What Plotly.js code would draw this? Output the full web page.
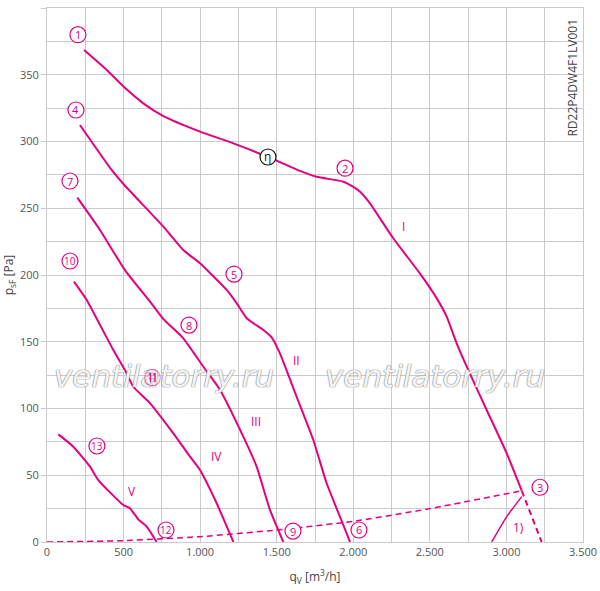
<!DOCTYPE html>
<html>
<head>
<meta charset="utf-8">
<script src="https://cdn.plot.ly/plotly-3.0.1.min.js"></script>
<style>
  html, body { margin: 0; padding: 0; background: #fff; }
  #chart { width: 600px; height: 591px; }
</style>
</head>
<body>
<div id="chart"></div>
<script>
// curve I (points 1 - 2 - 3)
const curve1X = [242, 390, 505, 629, 760, 999, 1217, 1443, 1652, 1761, 1935, 2000, 2044, 2109, 2261, 2436, 2545, 2610, 2675, 2741, 2871, 3002, 3100];
const curve1Y = [368.5, 353.6, 340.6, 328.6, 319, 307.4, 298.6, 288.4, 278, 273.6, 269.9, 266, 262.4, 253.7, 227.5, 201, 182.5, 168.8, 148.8, 131.3, 98.9, 66.4, 38.4];
// curve I beyond point 3 (dashed)
const curve1ExtX = [3100, 3230];
const curve1ExtY = [38.4, 0];
// curve II (points 4 - 5 - 6)
const curve2X = [215, 422, 505, 760, 890, 999, 1173, 1239, 1304, 1413, 1467, 1521, 1630, 1739, 1826, 1913, 1979];
const curve2Y = [312.4, 278.7, 267.4, 236.2, 218.7, 208.8, 188.8, 178.8, 167.6, 158.8, 153.3, 141.3, 108.8, 76.4, 44, 19, 0];
// curve III (points 7 - 8 - 9)
const curve3X = [198, 346, 509, 673, 760, 890, 1021, 1130, 1282, 1369, 1456, 1543];
const curve3Y = [257.9, 233.7, 203.7, 180, 167, 152.6, 131.3, 113.9, 78.9, 56.4, 24, 0];
// curve IV (points 10 - 11 - 12)
const curve4X = [176, 259, 433, 509, 564, 673, 825, 934, 999, 1108, 1217];
const curve4Y = [195, 181.3, 143.8, 128.8, 116.3, 103.9, 81.4, 63.9, 53.9, 29, 0];
// curve V (point 13)
const curve5X = [74, 172, 281, 335, 498, 542, 596, 651, 716];
const curve5Y = [80.6, 71.4, 56.4, 46.4, 27.7, 25.2, 17, 11.5, 0];
// system curve through 12 - 9 - 6 - 3 (dashed)
const systemX = [0, 500, 1000, 1500, 2000, 2500, 3100];
const systemY = [0, 1, 4, 9, 15.5, 25, 38.4];
// curve 1)
const limitX = [2904, 3002, 3100];
const limitY = [0, 19, 34];

// circled point numbers
const pointText = ["1", "2", "3", "4", "5", "6", "7", "8", "9", "10", "11", "12", "13"];
const pointX = [202, 1946, 3219, 189, 1221, 2037, 150, 927, 1606, 150, 686, 777, 326];
const pointY = [380, 280, 41, 323.6, 200.7, 9, 270.4, 162.5, 8.2, 210.5, 123.6, 9, 71.9];

// speed stage labels
const stageText = ["I", "II", "III", "IV", "V", "1)"];
const stageX = [2325, 1632, 1365, 1104, 555, 3076];
const stageY = [236, 136, 90, 64.4, 38.2, 11.2];

const etaX = 1443;
const etaY = 288.4;

const xTicks = [0, 500, 1000, 1500, 2000, 2500, 3000, 3500];
const yTicks = [0, 50, 100, 150, 200, 250, 300, 350, 400];

const pink = "#e6007e";
const gridGray = "#cbcbcb";

function curve(x, y, width, dash) {
  return {
    x: x, y: y,
    type: "scatter",
    mode: "lines",
    hoverinfo: "skip",
    line: { color: pink, width: width, dash: dash || "solid", shape: "spline", smoothing: 0.5 }
  };
}

var data = [
  curve(systemX, systemY, 1.5, "6px,4px"),
  curve(curve1X, curve1Y, 2),
  curve(curve1ExtX, curve1ExtY, 2, "6px,4px"),
  curve(curve2X, curve2Y, 2),
  curve(curve3X, curve3Y, 2),
  curve(curve4X, curve4Y, 2),
  curve(curve5X, curve5Y, 2),
  curve(limitX, limitY, 1.5)
];

var shapes = [];
var annotations = [];

// watermarks first, so labels sit above them
[764, 2534].forEach(function (wx) {
  annotations.push({
    x: wx, y: 124.3, xref: "x", yref: "y",
    text: "ventilatorry.ru", showarrow: false,
    font: {
      family: "DejaVu Sans", size: 31, style: "italic",
      color: "rgba(255,255,255,0.92)",
      shadow: "0 0 1px #8a8a8a, 0 0 1px #8a8a8a, 0 0 1px #8a8a8a"
    }
  });
});

function circleAt(x, y, color) {
  shapes.push({
    type: "circle", xref: "x", yref: "y",
    xsizemode: "pixel", ysizemode: "pixel",
    xanchor: x, yanchor: y,
    x0: -8, x1: 8, y0: -8, y1: 8,
    fillcolor: "white",
    line: { color: color, width: 1.2 },
    layer: "above"
  });
}

for (let i = 0; i < pointText.length; i++) {
  if (pointText[i] === "11") {
    // this one sits on the watermark: draw it as a circled glyph so it stays on top
    annotations.push({
      x: pointX[i], y: pointY[i], xref: "x", yref: "y",
      text: "⑪", showarrow: false, bgcolor: "rgba(255,255,255,0)",
      font: { family: "Noto Sans CJK JP", size: 17, color: pink }
    });
    continue;
  }
  circleAt(pointX[i], pointY[i], pink);
  annotations.push({
    x: pointX[i], y: pointY[i], xref: "x", yref: "y",
    text: pointText[i], showarrow: false,
    font: { family: "Open Sans", size: pointText[i].length > 1 ? 10 : 11, color: pink }
  });
}

circleAt(etaX, etaY, "#111");
annotations.push({
  x: etaX, y: etaY, xref: "x", yref: "y",
  text: "η", showarrow: false,
  font: { family: "Open Sans", size: 12, color: "#111" }
});

for (let i = 0; i < stageText.length; i++) {
  annotations.push({
    x: stageX[i], y: stageY[i], xref: "x", yref: "y",
    text: stageText[i], showarrow: false,
    font: { family: "Open Sans", size: 12, color: pink }
  });
}

// model code
annotations.push({
  x: 3429, y: 348, xref: "x", yref: "y",
  text: "RD22P4DW4F1LV001", showarrow: false, textangle: -90,
  font: { family: "Open Sans", size: 12, color: "#444" }
});

var layout = {
  width: 600,
  height: 591,
  margin: { l: 47, r: 17, t: 8, b: 49 },
  paper_bgcolor: "white",
  plot_bgcolor: "white",
  showlegend: false,
  separators: ",.",
  font: { family: "Open Sans", color: "#555" },
  xaxis: {
    range: [0, 3500],
    tickvals: xTicks,
    tickformat: ",",
    tickfont: { size: 11, color: "#555" },
    showgrid: true, gridcolor: gridGray, gridwidth: 1,
    minor: { dtick: 250, showgrid: true, gridcolor: gridGray, gridwidth: 1 },
    showline: true, mirror: true, linecolor: gridGray,
    zeroline: false,
    ticks: "",
    title: { text: "q<sub>V</sub> [m<sup>3</sup>/h]", font: { size: 12, color: "#444" }, standoff: 14 }
  },
  yaxis: {
    range: [0, 400],
    tickvals: yTicks,
    tickfont: { size: 11, color: "#555" },
    showgrid: true, gridcolor: gridGray, gridwidth: 1,
    minor: { dtick: 25, showgrid: true, gridcolor: gridGray, gridwidth: 1 },
    showline: true, mirror: true, linecolor: gridGray,
    zeroline: false,
    ticks: "outside", ticklen: 5, tickcolor: gridGray,
    title: { text: "p<sub>sF</sub> [Pa]", font: { size: 12, color: "#444" }, standoff: 6 }
  },
  shapes: shapes,
  annotations: annotations
};

Plotly.newPlot("chart", data, layout, { displayModeBar: false, staticPlot: true });
</script>
</body>
</html>
